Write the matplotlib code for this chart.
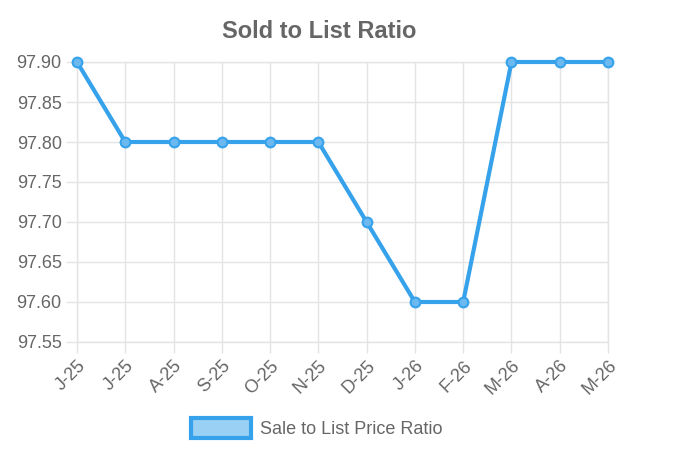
import matplotlib.pyplot as plt
from matplotlib.patches import Patch

months = ['J-25', 'J-25', 'A-25', 'S-25', 'O-25', 'N-25', 'D-25', 'J-26', 'F-26', 'M-26', 'A-26', 'M-26']
ratio = [97.9, 97.8, 97.8, 97.8, 97.8, 97.8, 97.7, 97.6, 97.6, 97.9, 97.9, 97.9]
yticks = [97.55, 97.60, 97.65, 97.70, 97.75, 97.80, 97.85, 97.90]

blue = '#36A2EB'
light = '#9BD0F5'
grid = '#e4e4e4'
txt = '#666666'

plt.rcParams['font.family'] = ['Liberation Sans', 'DejaVu Sans']

fig = plt.figure(figsize=(6.94, 4.55), dpi=100)
ax = fig.add_axes([77/694, 1-342/455, (608-77)/694, (342-62)/455])

x = list(range(len(months)))
ax.plot(x, ratio, color=blue, lw=3, marker='o', ms=7, mfc='#6cb9f0', mec=blue, mew=1.5,
        zorder=3, clip_on=False)

ax.set_xlim(0, len(months) - 1)
ax.set_ylim(97.55, 97.90)
ax.set_yticks(yticks)
ax.set_yticklabels(['%.2f' % v for v in yticks])
ax.set_xticks(x)
ax.set_xticklabels(months, rotation=45, ha='right', rotation_mode='anchor')
ax.grid(True, color=grid, lw=1)
ax.set_axisbelow(True)
for s in ax.spines.values():
    s.set_color(grid)
    s.set_linewidth(1)
ax.tick_params(axis='both', colors=grid, length=8, width=1, labelcolor=txt, labelsize=13, pad=3)

fig.text(319/694, 1-32/455, 'Sold to List Ratio', ha='center', va='center',
         fontsize=17, fontweight='bold', color=txt)

h = Patch(facecolor=light, edgecolor=blue, lw=3)
fig.legend([h], ['Sale to List Price Ratio'], loc='center', bbox_to_anchor=(317/694, 1-428/455),
           frameon=False, fontsize=13, labelcolor=txt, handlelength=3.3, handleheight=1.3,
           handletextpad=0.5)

fig.savefig('out.png', dpi=100)
